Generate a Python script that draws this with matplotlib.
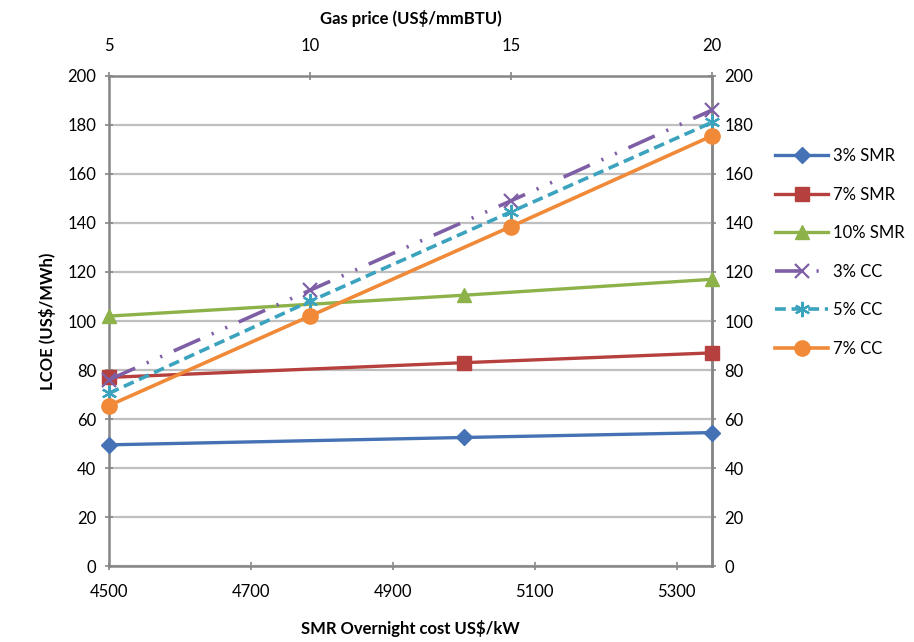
import matplotlib.pyplot as plt
from matplotlib.ticker import MultipleLocator

plt.rcParams['font.family'] = ['Lato', 'DejaVu Sans']

# --- data ---
smr_cost = [4500, 5000, 5350]
smr_3 = [49.5, 52.5, 54.5]
smr_7 = [77, 83, 87]
smr_10 = [102, 110.5, 117]

gas_price = [5, 10, 15, 20]
cc_3 = [76, 112.5, 149, 186]
cc_5 = [70.5, 108, 144.5, 181]
cc_7 = [65.5, 102, 138.5, 175.5]

y_ticks = list(range(0, 201, 20))
x_ticks = [4500, 4700, 4900, 5100, 5300]
gas_ticks = [5, 10, 15, 20]

# --- figure ---
fig = plt.figure(figsize=(9.14, 6.42), dpi=100)
ax = fig.add_axes([0.119, 0.118, 0.660, 0.764])

grey = '#868686'
fs = 12

ax.set_xlim(4500, 5350)
ax.set_ylim(0, 200)
ax.set_xticks(x_ticks)
ax.set_yticks(y_ticks)
ax.yaxis.grid(True, color='#BFBFBF', linewidth=1.6)
ax.set_axisbelow(True)
for s in ax.spines.values():
    s.set_color(grey)
    s.set_linewidth(1.8)
ax.tick_params(axis='both', colors=grey, labelcolor='black', labelsize=fs,
               length=6, width=1.2, direction='inout')
ax.tick_params(axis='x', pad=10)
ax.tick_params(axis='y', pad=6)

ax.plot(smr_cost, smr_3, color='#4472B4', lw=2.4, marker='D', ms=8,
        label='3% SMR', zorder=3, clip_on=False)
ax.plot(smr_cost, smr_7, color='#B5403D', lw=2.4, marker='s', ms=10,
        label='7% SMR', zorder=3, clip_on=False)
ax.plot(smr_cost, smr_10, color='#8DB24A', lw=2.4, marker='^', ms=10,
        label='10% SMR', zorder=3, clip_on=False)

ax.set_xlabel('SMR Overnight cost US\\$/kW', fontsize=fs, fontweight='bold',
              labelpad=14)
ax.set_ylabel('LCOE (US\\$/MWh)', fontsize=fs, fontweight='bold', labelpad=8)

# right y axis labels
ax_r = ax.secondary_yaxis('right')
ax_r.set_yticks(y_ticks)
ax_r.tick_params(colors=grey, labelcolor='black', labelsize=fs, length=6,
                 width=1.2, direction='inout', pad=6)
ax_r.spines['right'].set_color(grey)
ax_r.spines['right'].set_linewidth(1.8)

# top x axis (gas price) for combined cycle series
ax_t = ax.twiny()
ax_t.set_xlim(5, 20)
ax_t.set_ylim(0, 200)
ax_t.set_xticks(gas_ticks)
ax_t.tick_params(axis='x', colors=grey, labelcolor='black', labelsize=fs,
                 length=6, width=1.2, direction='inout', pad=13)
for s in ax_t.spines.values():
    s.set_visible(False)

ax_t.plot(gas_price, cc_3, color='#7E5FA6', lw=2.6, marker='x', ms=10,
          mew=1.6, dashes=(8, 3.5, 0.6, 3.5, 0.6, 3.5), label='3% CC',
          zorder=3, clip_on=False)
ax_t.plot(gas_price, cc_5, color='#3BA3BE', lw=2.6, marker=(6, 2, 0), ms=11,
          mew=1.6, dashes=(3, 1.6), label='5% CC', zorder=3, clip_on=False)
ax_t.plot(gas_price, cc_7, color='#F08A38', lw=2.6, marker='o', ms=11,
          label='7% CC', zorder=4, clip_on=False)
ax_t.set_xlabel('Gas price (US\\$/mmBTU)', fontsize=fs, fontweight='bold',
                labelpad=10)

h1, l1 = ax.get_legend_handles_labels()
h2, l2 = ax_t.get_legend_handles_labels()
fig.legend(h1 + h2, l1 + l2, loc='center left', bbox_to_anchor=(0.848, 0.607),
           frameon=False, fontsize=fs, handlelength=3.2, handletextpad=0.3,
           labelspacing=1.35, borderpad=0, borderaxespad=0)

fig.savefig('out.png', dpi=100)
